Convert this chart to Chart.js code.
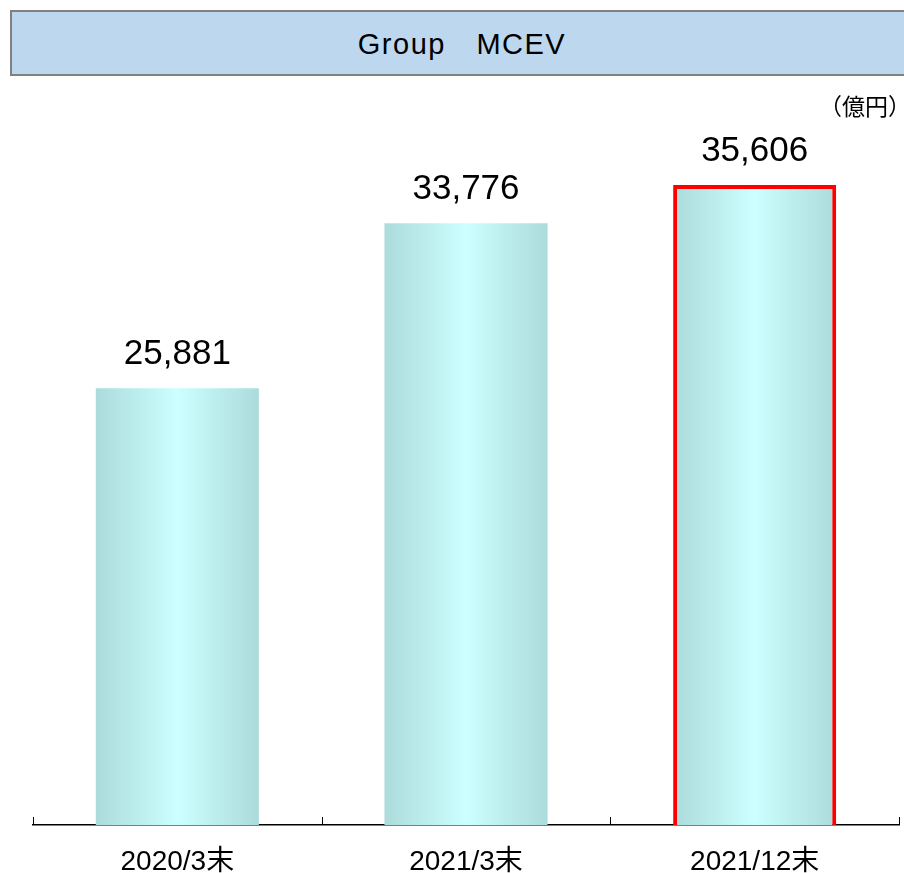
<!DOCTYPE html>
<html>
<head>
<meta charset="utf-8">
<script src="https://cdn.jsdelivr.net/npm/chart.js@4.4.1/dist/chart.umd.min.js"></script>
<style>
  html, body { margin: 0; padding: 0; background: #fff; overflow: hidden; }
  #wrap { position: relative; width: 904px; height: 873px; }
  #titleBox {
    position: absolute; left: 10px; top: 10px; width: 900px; height: 62px;
    background: #bdd7ee; border: 2px solid #808080;
    font-family: 'Liberation Sans', sans-serif; font-size: 29px; letter-spacing: 1.5px;
    line-height: 64px; text-align: center; color: #000;
  }
  #unit {
    position: absolute; left: 819px; top: 88px;
    font-family: 'Noto Sans CJK JP', sans-serif; font-size: 23px; color: #000; white-space: nowrap;
  }
  canvas { position: absolute; left: 0; top: 0; }
</style>
</head>
<body>
<div id="wrap">
  <canvas id="mcevChart" width="904" height="873"></canvas>
  <div id="titleBox">Group　MCEV</div>
  <div id="unit">（億円）</div>
</div>
<script>
// Data
const categories = ['2020/3末', '2021/3末', '2021/12末'];
const mcevValues = [25881, 33776, 35606];
const highlightIndex = 2;

// bars have a horizontal teal gradient, lightest in the middle
function barGradient(context) {
  const chart = context.chart;
  const xScale = chart.scales.x;
  if (!xScale || !chart.chartArea) return '#c4eeee';
  const cx = xScale.getPixelForValue(context.dataIndex);
  const half = (xScale.width / categories.length) * 0.565 / 2;
  const g = chart.ctx.createLinearGradient(cx - half, 0, cx + half, 0);
  g.addColorStop(0, '#acdbdb');
  g.addColorStop(0.5, '#ccffff');
  g.addColorStop(1, '#acdbdb');
  return g;
}

// value labels above each bar
const valueLabels = {
  id: 'valueLabels',
  afterDatasetsDraw(chart) {
    const ctx = chart.ctx;
    const meta = chart.getDatasetMeta(0);
    ctx.save();
    ctx.fillStyle = '#000';
    ctx.font = '35px "Liberation Sans", sans-serif';
    ctx.textAlign = 'center';
    ctx.textBaseline = 'middle';
    meta.data.forEach(function(bar, i) {
      ctx.fillText(mcevValues[i].toLocaleString('en-US'), bar.x, bar.y - 34);
    });
    ctx.restore();
  }
};

// small tick marks pointing up from the axis line at the category boundaries
const upTicks = {
  id: 'upTicks',
  afterDraw(chart) {
    const ctx = chart.ctx;
    const xScale = chart.scales.x;
    const step = xScale.width / categories.length;
    const y = chart.chartArea.bottom;
    ctx.save();
    ctx.strokeStyle = '#000';
    ctx.lineWidth = 1;
    for (let i = 0; i <= categories.length; i++) {
      const x = Math.round(xScale.getPixelForValue(0) - step / 2 + i * step) + 0.5;
      ctx.beginPath();
      ctx.moveTo(x, y - 8);
      ctx.lineTo(x, y);
      ctx.stroke();
    }
    ctx.restore();
  }
};

document.addEventListener('DOMContentLoaded', function() {
  const ctx = document.getElementById('mcevChart').getContext('2d');

  new Chart(ctx, {
    type: 'bar',
    data: {
      labels: categories,
      datasets: [{
        data: mcevValues,
        backgroundColor: barGradient,
        borderColor: categories.map((c, i) => i === highlightIndex ? '#ff0000' : 'rgba(0,0,0,0)'),
        borderWidth: categories.map((c, i) => i === highlightIndex ? 4 : 0),
        borderSkipped: false,
        categoryPercentage: 1,
        barPercentage: 0.565
      }]
    },
    options: {
      responsive: false,
      animation: false,
      layout: { padding: { left: 33, right: 5, top: 93, bottom: 0 } },
      plugins: {
        legend: { display: false },
        tooltip: { enabled: false }
      },
      scales: {
        x: {
          afterFit: function(scale) { scale.height = 48; },
          grid: { display: true, drawOnChartArea: false, drawTicks: false, color: 'rgba(0,0,0,0)' },
          border: { display: true, color: '#000', width: 1.5 },
          ticks: {
            color: '#000',
            padding: 20,
            font: { family: '"Liberation Sans", "Noto Sans CJK JP", sans-serif', size: 28 }
          }
        },
        y: {
          display: false,
          min: 5000,
          max: 40000
        }
      }
    },
    plugins: [valueLabels, upTicks]
  });
});
</script>
</body>
</html>
